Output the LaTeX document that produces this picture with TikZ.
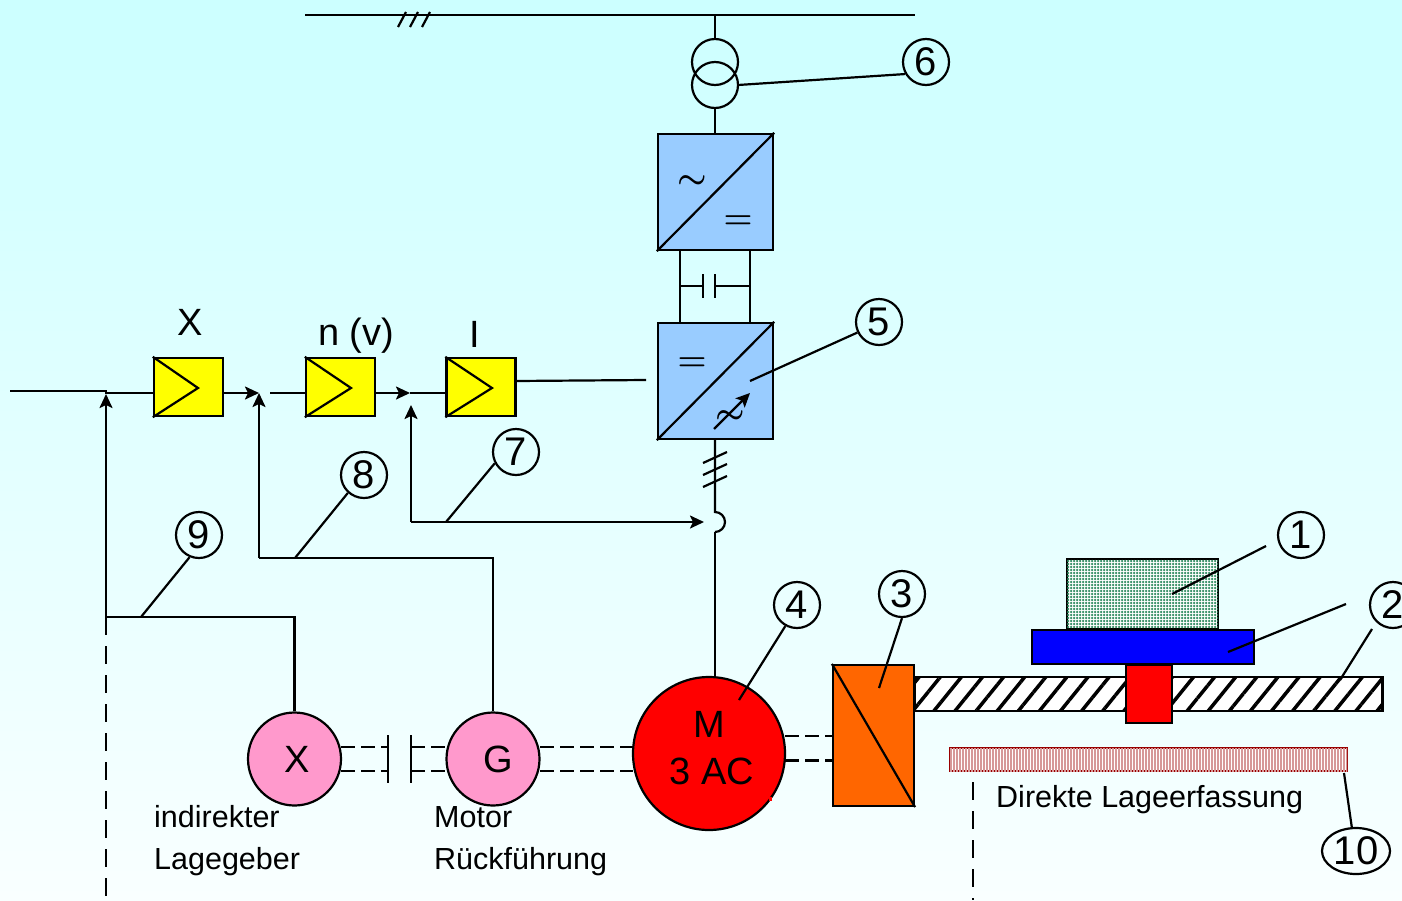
\documentclass[tikz,border=0pt]{standalone}
\usepackage{fontspec}
\setmainfont{Liberation Sans}
\usetikzlibrary{arrows.meta,patterns.meta,shapes.geometric}
\definecolor{bgtop}{HTML}{CCFFFF}
\definecolor{bgbot}{HTML}{F9FFFF}
\definecolor{convblue}{HTML}{99CCFF}
\definecolor{pinkc}{HTML}{FF99CC}
\definecolor{orangec}{HTML}{FF6600}
\definecolor{loadgreen}{HTML}{2E8B5F}
\definecolor{scalered}{HTML}{990000}
\definecolor{ctrlyellow}{rgb}{1,1,0}
\tikzset{
  x=1pt,y=-1pt,
  wire/.style={line width=2.2pt,black},
  arr/.style={wire,-{Stealth[length=14pt,width=13pt,inset=3pt]}},
  dash1/.style={wire,dash pattern=on 14pt off 6pt},
  longdash/.style={wire,dash pattern=on 18pt off 11pt},
  txt/.style={inner sep=0pt,font=\fontsize{30.5}{34}\selectfont},
  big/.style={inner sep=0pt,font=\fontsize{38}{40}\selectfont},
  sym/.style={inner sep=0pt,scale=1.33,font=\fontsize{24.88}{30}\selectfont\boldmath},
  numc/.style={draw,circle,line width=2.2pt,minimum size=46pt,inner sep=0pt,font=\fontsize{40}{42}\selectfont},
  conv/.style={draw,line width=2.4pt,fill=convblue,minimum width=115pt,minimum height=116pt,inner sep=0pt},
  ctrl/.style={draw,line width=2.4pt,fill=ctrlyellow,minimum width=69pt,minimum height=58pt,inner sep=0pt},
  sensor/.style={draw,circle,line width=2.2pt,fill=pinkc,minimum size=93pt,inner sep=0pt},
  xfmr/.style={draw,circle,line width=2.2pt,minimum size=46pt,inner sep=0pt},
}
\begin{document}
\begin{tikzpicture}
\useasboundingbox (0,0) rectangle (1402,900);
\shade[top color=bgtop,bottom color=bgbot] (0,0) rectangle (1402,900);

% mains
\coordinate (busL) at (305,15);
\coordinate (busR) at (915,15);
\coordinate (busT) at (715,15);
\draw[wire] (busL) -- (busR);
\coordinate (t1a) at (398,27); \coordinate (t1b) at (406,12);
\coordinate (t2a) at (410,27); \coordinate (t2b) at (418,12);
\coordinate (t3a) at (422,27); \coordinate (t3b) at (430,12);
\draw[wire] (t1a) -- (t1b) (t2a) -- (t2b) (t3a) -- (t3b);

% transformer
\node[xfmr] (tr1) at (715,62) {};
\node[xfmr] (tr2) at (715,85) {};
\draw[wire] (busT) -- (tr1.north);

% converters
\node[conv] (rect) at (715.5,192) {};
\node[conv] (inv) at (715.5,381) {};
\coordinate (rectt) at (715,134);
\draw[wire] (tr2.south) -- (rectt);
\draw[wire] (rect.south west) -- (rect.north east);
\draw[wire] (inv.south west) -- (inv.north east);
\node[sym] (tilde1) at (692,182) {$\sim$};
\node[sym] (eq1) at (738,222) {$=$};
\node[sym] (eq2) at (692,364) {$=$};
\node[sym] (tilde2) at (730,417) {$\sim$};
\coordinate (va) at (714,429); \coordinate (vb) at (750,393);
\draw[arr] (va) -- (vb);

% DC link
\coordinate (dl1) at (680,250); \coordinate (dl2) at (680,323);
\coordinate (dr1) at (750,250); \coordinate (dr2) at (750,323);
\draw[wire] (dl1) -- (dl2) (dr1) -- (dr2);
\coordinate (cl) at (680,286); \coordinate (cp1) at (703,286);
\coordinate (cp2) at (715,286); \coordinate (cr) at (750,286);
\coordinate (cp1a) at (703,274); \coordinate (cp1b) at (703,298);
\coordinate (cp2a) at (715,274); \coordinate (cp2b) at (715,298);
\draw[wire] (cl) -- (cp1) (cp2) -- (cr) (cp1a) -- (cp1b) (cp2a) -- (cp2b);

% motor feed
\node[draw,ellipse,line width=2.2pt,fill=red,minimum width=152pt,minimum height=153pt,inner sep=0pt] (motor) at (709,753.5) {};
\coordinate (bumpT) at (715,512); \coordinate (bumpB) at (715,532);
\coordinate (invb) at (715,439);
\draw[wire] (invb) -- (bumpT) arc[start angle=90,end angle=-90,radius=10pt];
\coordinate (mtop) at (715,678);
\draw[wire] (bumpB) -- (mtop);
\coordinate (h1a) at (703,463); \coordinate (h1b) at (727,452);
\coordinate (h2a) at (703,475); \coordinate (h2b) at (727,464);
\coordinate (h3a) at (703,487); \coordinate (h3b) at (727,476);
\draw[wire] (h1a) -- (h1b) (h2a) -- (h2b) (h3a) -- (h3b);
\node[big,anchor=center] (mtxt) at (709,724) {M};
\node[big,anchor=center] (mtxt2) at (712,771) {3 AC};
\fill[red] (769,797) rectangle (772,801);

% controllers
\node[ctrl] (cx) at (188.5,387) {};
\node[ctrl] (cn) at (340.5,387) {};
\node[ctrl] (ci) at (481,387) {};
\foreach \n/\tip in {cx/198,cn/351,ci/492}{
  \coordinate (\n tip) at (\tip,388);
  \draw[wire] (\n.north west) -- (\n tip) -- (\n.south west);
}
\node[big] (lx) at (190,322) {X};
\node[big] (ln) at (356,335.5) {n (v)};
\node[big] (li) at (474.5,334) {I};

% signal path
\coordinate (in) at (10,391);
\coordinate (s1) at (106,391);
\coordinate (s1b) at (106,393);
\coordinate (s2) at (259,393);
\coordinate (s3) at (270,393);
\coordinate (s4) at (410,393);
\coordinate (cxin) at (154,393);
\coordinate (cxout) at (223,393);
\coordinate (cnin) at (306,393);
\coordinate (cnout) at (375,393);
\coordinate (ciin) at (446,393);
\draw[wire] (in) -- (s1) -- (s1b) -- (cxin);
\draw[arr] (cxout) -- (s2);
\draw[wire] (s3) -- (cnin);
\draw[arr] (cnout) -- (s4);
\draw[wire] (s4) -- (ciin);
\coordinate (ciout) at (516,381);
\coordinate (invin) at (646,380);
\draw[wire] (ciout) -- (invin);

% feedback
\coordinate (f7c) at (411,522);
\coordinate (f7t) at (411,405);
\coordinate (f7e) at (704,522);
\draw[arr] (f7c) -- (f7t);
\draw[arr] (f7c) -- (f7e);
\node[sensor] (sx) at (294.5,759) {};
\node[sensor] (sg) at (493,759) {};
\node[big] (sxt) at (297,759) {X};
\node[big] (sgt) at (498.5,759) {G};
\coordinate (f8c) at (259,558);
\coordinate (f8t) at (259,393);
\coordinate (f8r) at (493,558);
\draw[arr] (f8c) -- (f8t);
\draw[wire] (f8c) -- (f8r) -- (sg.north);
\coordinate (f9c) at (106,617);
\coordinate (f9t) at (106,394);
\coordinate (f9r) at (294.5,617);
\coordinate (f9d) at (106,900);
\draw[arr] (f9c) -- (f9t);
\draw[wire] (f9c) -- (f9r) -- (sx.north);
\draw[longdash] (f9c) -- (f9d);

% shaft dashes
\coordinate (c1a) at (388,735); \coordinate (c1b) at (388,783);
\coordinate (c2a) at (411,735); \coordinate (c2b) at (411,783);
\draw[wire] (c1a) -- (c1b) (c2a) -- (c2b);
\foreach \y in {747,771}{
  \draw[dash1] (341,\y) -- (388,\y);
  \draw[dash1] (411,\y) -- (447,\y);
  \draw[dash1] (540,\y) -- (633,\y);
}
\coordinate (sr1a) at (785,736); \coordinate (sr1b) at (833,736);
\coordinate (sr2a) at (785,760); \coordinate (sr2b) at (833,760);
\draw[dash1] (sr1a) -- (sr1b);
\draw[dash1,line width=3pt] (sr2a) -- (sr2b);

% gear
\node[draw,line width=2.2pt,fill=orangec,minimum width=81pt,minimum height=141pt,inner sep=0pt] (gear) at (873.5,735.5) {};
\draw[wire] (gear.north west) -- (gear.south east);

% rail
\node[draw,line width=2.2pt,fill=white,
  postaction={pattern={Lines[angle=51,distance=16.4pt,line width=3.5pt]},pattern color=black},
  minimum width=468pt,minimum height=34pt,inner sep=0pt] (rail) at (1148.5,694) {};
% load
\node[draw,line width=2.2pt,fill=white,
  postaction={pattern={Dots[distance=3pt,radius=1.25pt]},pattern color=loadgreen},
  minimum width=151pt,minimum height=70pt,inner sep=0pt] (load) at (1142.5,594) {};
\node[draw,line width=2.2pt,fill=blue,minimum width=222pt,minimum height=34pt,inner sep=0pt] (table) at (1143,647) {};
\node[draw,line width=2.2pt,fill=red,minimum width=46pt,minimum height=58pt,inner sep=0pt] (nut) at (1149,694) {};

% scale
\node[draw=scalered,line width=2.2pt,fill=white,
  postaction={pattern={Lines[angle=90,distance=3pt,line width=1.2pt]},pattern color=scalered!40!white},
  minimum width=397pt,minimum height=23pt,inner sep=0pt] (scale) at (1148.5,759.5) {};
\coordinate (dv1) at (973,782); \coordinate (dv2) at (973,900);
\draw[longdash] (dv1) -- (dv2);

% labels
\node[txt,anchor=west] (t1) at (154,817) {indirekter};
\node[txt,anchor=west] (t2) at (154,862) {Lagegeber};
\node[txt,anchor=west] (t3) at (434,817) {Motor};
\node[txt,anchor=west] (t4) at (434,862) {Rückführung};
\node[txt,anchor=west] (t5) at (996,800) {Direkte Lageerfassung};

% numbered callouts
\node[numc] (n1) at (1301,535) {1};
\node[numc] (n2) at (1393,605) {2};
\node[numc] (n3) at (902,594) {3};
\node[numc] (n4) at (797,605) {4};
\node[numc] (n5) at (879,322) {5};
\node[numc] (n6) at (926,62) {6};
\node[numc] (n7) at (516,452) {7};
\node[numc] (n8) at (364,475) {8};
\node[numc] (n9) at (199,535) {9};
\node[draw,ellipse,line width=2.2pt,minimum width=68pt,minimum height=46pt,inner sep=0pt,font=\fontsize{40}{42}\selectfont] (n10) at (1356,851) {10};

\coordinate (p1) at (1172,594); \coordinate (q1) at (1266,546);
\coordinate (p2) at (1228,652); \coordinate (q2) at (1346,604);
\coordinate (p2b) at (1340,680); \coordinate (q2b) at (1372,629);
\coordinate (p3) at (879,688);
\coordinate (p4) at (739,700);
\coordinate (p5) at (750,381);
\coordinate (p6) at (738,85);
\coordinate (p7) at (446,522);
\coordinate (p8) at (295,558);
\coordinate (p9) at (141,617);
\coordinate (p10) at (1344,773);
\draw[wire] (p1) -- (q1) (p2) -- (q2) (p2b) -- (q2b);
\draw[wire] (p3) -- (n3.south);
\draw[wire] (p4) -- (n4.241);
\draw[wire] (p5) -- (n5.206);
\draw[wire] (p6) -- (n6.210);
\draw[wire] (p7) -- (n7.208);
\draw[wire] (p8) -- (n8.228);
\draw[wire] (p9) -- (n9.247);
\draw[wire] (p10) -- (n10.100);
\end{tikzpicture}
\end{document}
